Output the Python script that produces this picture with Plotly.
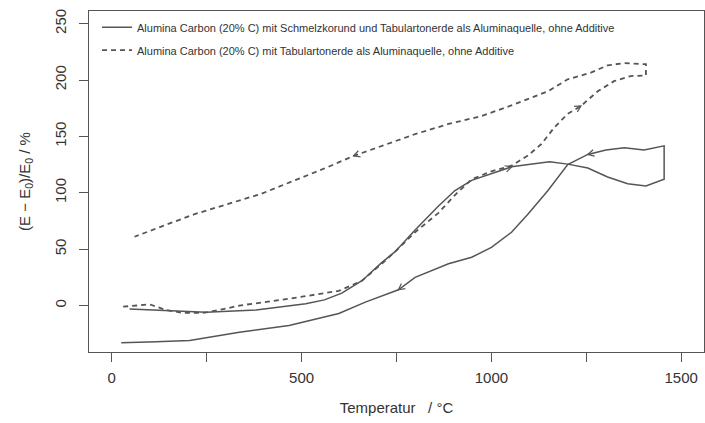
import math
import plotly.graph_objects as go

# Sample 1: Schmelzkorund + Tabulartonerde (heating, then cooling)
s1_heat_T = [47, 117, 248, 380, 511, 560, 606, 659, 711, 747, 799, 860, 904, 948, 1053, 1153, 1201, 1254, 1306, 1359, 1407, 1455]
s1_heat_E = [-3, -4, -6, -4, 1.5, 5, 11, 22, 38, 48, 67, 88, 102, 111, 123, 127.5, 125.4, 122, 114, 108, 106, 112]
s1_cool_T = [1455, 1402, 1350, 1302, 1254, 1201, 1149, 1096, 1053, 1000, 948, 887, 799, 755, 668, 598, 467, 336, 205, 117, 25]
s1_cool_E = [141.6, 138, 140, 138, 134, 125, 102, 81, 65, 51.6, 42.8, 37, 25, 14, 3, -7, -17.7, -23.6, -31, -32, -33]

# Sample 2: Tabulartonerde only (heating, then cooling)
s2_heat_T = [30, 73, 100, 143, 187, 240, 283, 336, 467, 598, 659, 711, 747, 799, 860, 904, 948, 1000, 1053, 1096, 1131, 1166, 1201, 1236, 1280, 1323, 1367, 1407]
s2_heat_E = [-1, 0.6, 1, -4, -6.5, -6.5, -4, 0, 6, 13, 22, 37, 48, 65, 82, 98, 112, 119, 124, 133, 143, 158, 170, 177, 190, 199, 203.5, 204]
s2_cool_T = [1407, 1350, 1306, 1262, 1201, 1149, 1061, 974, 887, 799, 711, 637, 567, 480, 393, 305, 218, 130, 60]
s2_cool_E = [214, 215, 213, 206.5, 200.6, 190, 178.5, 168, 161, 152, 141.6, 132.7, 122.5, 110.6, 99, 90, 81, 70, 61]

labels = [
    "Alumina Carbon (20% C) mit Schmelzkorund und Tabulartonerde als Aluminaquelle, ohne Additive",
    "Alumina Carbon (20% C) mit Tabulartonerde als Aluminaquelle, ohne Additive",
]

x_ticks = [0, 500, 1000, 1500]
x_minor_ticks = [250, 750, 1250]
y_ticks = [0, 50, 100, 150, 200, 250]

X_RANGE = [-60, 1560]
Y_RANGE = [-41.2, 261.2]
W, H = 705, 423
M = dict(l=89, r=1, t=11, b=71)

LINE = "#555555"
TEXT = "#333333"
FONT = "Liberation Sans, Arial, Helvetica, sans-serif"

fig = go.Figure()
fig.add_trace(go.Scatter(
    x=s1_heat_T + s1_cool_T, y=s1_heat_E + s1_cool_E, mode="lines",
    line=dict(color=LINE, width=1.5), name=labels[0], legendgroup="a",
))
fig.add_trace(go.Scatter(
    x=s2_heat_T + s2_cool_T, y=s2_heat_E + s2_cool_E, mode="lines",
    line=dict(color=LINE, width=1.8, dash="5px,4px"), name=labels[1], legendgroup="b",
))

# Direction arrowheads (open V) placed on curve points, pointing along the path
plot_w = W - M["l"] - M["r"]
plot_h = H - M["t"] - M["b"]
sx = plot_w / (X_RANGE[1] - X_RANGE[0])
sy = plot_h / (Y_RANGE[1] - Y_RANGE[0])


def arrowhead(xs, ys, i, length=7.0, spread=math.radians(28)):
    dx = (xs[i] - xs[i - 1]) * sx
    dy = (ys[i] - ys[i - 1]) * sy
    n = math.hypot(dx, dy)
    ux, uy = -dx / n, -dy / n
    pts = []
    for a in (spread, -spread):
        rx = ux * math.cos(a) - uy * math.sin(a)
        ry = ux * math.sin(a) + uy * math.cos(a)
        pts.append((xs[i] + rx * length / sx, ys[i] + ry * length / sy))
    (x1, y1), (x2, y2) = pts
    return f"M {x1},{y1} L {xs[i]},{ys[i]} L {x2},{y2}"


arrows = [
    (s1_heat_T, s1_heat_E, s1_heat_T.index(1053)),
    (s1_cool_T, s1_cool_E, s1_cool_T.index(1254)),
    (s1_cool_T, s1_cool_E, s1_cool_T.index(755)),
    (s2_heat_T, s2_heat_E, s2_heat_T.index(1236)),
    (s2_cool_T, s2_cool_E, s2_cool_T.index(637)),
]
for xs, ys, i in arrows:
    fig.add_shape(type="path", path=arrowhead(xs, ys, i), xref="x", yref="y",
                  line=dict(color=LINE, width=1.2))

axis_common = dict(
    showline=True, linecolor=LINE, linewidth=1, mirror=True,
    ticks="outside", ticklen=9, tickcolor=LINE, tickwidth=1,
    showgrid=False, zeroline=False,
    tickfont=dict(family=FONT, size=15, color=TEXT),
)

fig.update_layout(
    width=W, height=H, margin=M,
    paper_bgcolor="white", plot_bgcolor="white",
    font=dict(family=FONT, color=TEXT),
    xaxis=dict(range=X_RANGE, tickvals=x_ticks, ticklabelstandoff=3,
               minor=dict(tickvals=x_minor_ticks, ticks="outside", ticklen=9,
                          tickcolor=LINE, tickwidth=1, showgrid=False),
               title=dict(text="Temperatur   / °C", font=dict(family=FONT, size=15, color=TEXT), standoff=17),
               **axis_common),
    yaxis=dict(range=Y_RANGE, tickvals=y_ticks, tickangle=-90, ticklabelstandoff=7,
               title=dict(text="(E − E<sub>0</sub>)/E<sub>0</sub> / %", font=dict(family=FONT, size=15, color=TEXT), standoff=17),
               **axis_common),
    legend=dict(x=0.013, y=0.995, xanchor="left", yanchor="top",
                bgcolor="rgba(0,0,0,0)", font=dict(family=FONT, size=11, color=TEXT),
                tracegroupgap=4),
    showlegend=True,
)

fig.write_html("out.html")
